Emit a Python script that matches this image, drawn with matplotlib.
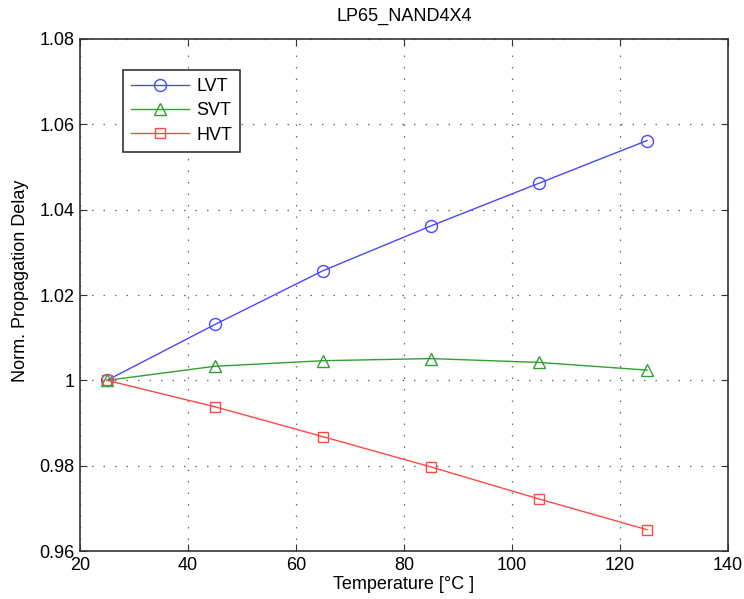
import matplotlib
matplotlib.use("Agg")
import matplotlib.pyplot as plt
from matplotlib.ticker import FuncFormatter

plt.rcParams["font.family"] = ["Liberation Sans", "DejaVu Sans"]
plt.rcParams["font.size"] = 13

temp = [25, 45, 65, 85, 105, 125]
lvt = [1.0, 1.0131, 1.0257, 1.0362, 1.0462, 1.0562]
svt = [1.0, 1.0033, 1.0046, 1.0051, 1.0042, 1.0024]
hvt = [1.0, 0.9938, 0.9868, 0.9797, 0.9722, 0.9650]

fig = plt.figure(figsize=(7.44, 5.99), dpi=100)
ax = fig.add_axes([0.1075, 0.0801, 0.871, 0.8548])

ax.plot(temp, lvt, color="#4848ff", marker="o", markersize=8.6, mfc="none", lw=1, label="LVT")
ax.plot(temp, svt, color="#30a030", marker="^", markersize=8.6, mfc="none", lw=1, label="SVT")
ax.plot(temp, hvt, color="#ff4848", marker="s", markersize=7, mfc="none", lw=1, label="HVT")

ax.set_xlim(20, 140)
ax.set_ylim(0.96, 1.08)
ax.set_xticks(range(20, 141, 20))
ax.set_yticks([0.96, 0.98, 1.0, 1.02, 1.04, 1.06, 1.08])
ax.yaxis.set_major_formatter(FuncFormatter(lambda v, p: "%g" % round(v, 2)))
ax.tick_params(direction="in", top=True, right=True, length=5, labelsize=13, pad=4,
               color="#333333")
ax.grid(True, linestyle=(0, (1.2, 8)), color="#666666", lw=0.9)
for s in ax.spines.values():
    s.set_color("#333333")
    s.set_linewidth(1.2)

ax.set_title("LP65_NAND4X4", fontsize=13, pad=13)
ax.set_xlabel("Temperature [°C ]", fontsize=13, labelpad=2)
ax.set_ylabel("Norm. Propagation Delay", fontsize=13)
ax.yaxis.set_label_coords(-0.078, 0.527)

leg = ax.legend(loc="upper left", bbox_to_anchor=(0.0664, 0.9395), borderaxespad=0,
                fancybox=False, edgecolor="#333333", framealpha=1, fontsize=13,
                handlelength=3.2, handletextpad=0.4, borderpad=0.45, labelspacing=0.4)
leg.get_frame().set_linewidth(1.2)

fig.savefig("out.png", dpi=100)
